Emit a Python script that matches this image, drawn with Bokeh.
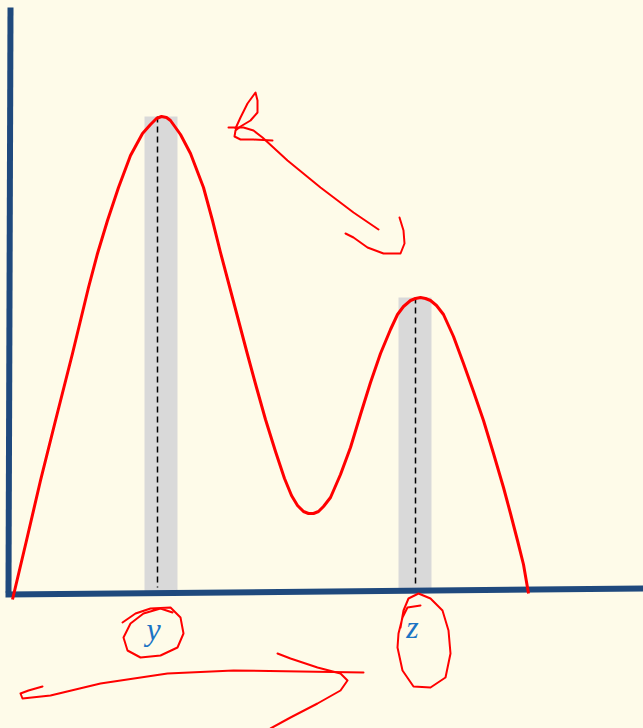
from bokeh.plotting import figure
from bokeh.models import Range1d
from bokeh.core.properties import value
from bokeh.embed import file_html
from bokeh.resources import INLINE

OX, OY = 9, 591  # page position of the axes origin


def conv(pts):
    return [p[0] - OX for p in pts], [OY - p[1] for p in pts]


# ---- data: curve (page pixel readings, converted to axis units below)
curve_pts = [(12, 599), (26, 540), (40, 480), (55, 420), (72, 353), (88, 287), (97, 253), (107, 220),
             (118, 187), (130, 155), (142, 133), (150, 124), (156, 118), (161, 116), (166, 117),
             (170, 120), (180, 134), (190, 153), (203, 187), (212, 220), (220, 252), (229, 286),
             (238, 320), (247, 354), (256, 387), (265, 419), (275, 451), (284, 478), (291, 495),
             (297, 505), (303, 511), (308, 513), (313, 513), (318, 511), (323, 506), (330, 497),
             (340, 474), (350, 447), (360, 414), (370, 382), (380, 353), (390, 329), (397, 314),
             (403, 306), (410, 300), (415, 298), (420, 297), (425, 298), (430, 300), (436, 305),
             (443, 314), (453, 336), (463, 363), (473, 391), (483, 420), (493, 453), (503, 487),
             (510, 513), (517, 540), (523, 564), (528, 593)]
curve_x, curve_y = conv(curve_pts)

peak_labels = ["y", "z"]
peak_x = [151.5, 405.5]
peak_top = [475, 294]
dash_x = [148, 406]
bar_width = 33

# axis lines (hand drawn, slightly tilted)
yaxis_x = [1, -1]
yaxis_y = [584, -1]
xaxis_x = [-4, 634]
xaxis_y = [-3, 3]

# red hand-drawn annotations, page pixel coordinates
top_shaft = [(228, 127), (243, 127), (253, 130), (262, 137), (287, 160), (320, 187), (353, 212), (378, 229)]
top_loop = [(235, 128), (240, 117), (247, 103), (255, 92), (257, 100), (257, 112), (250, 120), (240, 126),
            (235, 130), (234, 136), (240, 139), (253, 139), (272, 140)]
top_hook = [(345, 233), (353, 237), (367, 247), (383, 253), (400, 253), (404, 243), (403, 230), (399, 217)]
y_circle = [(122, 622), (135, 613), (150, 608), (170, 607), (180, 617), (183, 633), (177, 647), (160, 655),
            (140, 657), (127, 650), (123, 637), (130, 623), (143, 613), (160, 608), (172, 612)]
z_circle = [(420, 605), (407, 607), (402, 617), (398, 633), (397, 647), (402, 670), (413, 686), (430, 687),
            (445, 677), (450, 653), (448, 630), (442, 610), (430, 598), (418, 593), (408, 598), (403, 610),
            (400, 627)]
bottom_shaft = [(42, 686), (28, 690), (20, 693), (22, 698), (50, 695), (100, 683), (167, 673), (233, 670),
                (300, 671), (363, 672)]
bottom_head = [(277, 653), (290, 658), (317, 667), (340, 673), (347, 680), (340, 690), (317, 703),
               (290, 717), (270, 728)]

BG = "#fefbe9"
W, H = 643, 728

p = figure(width=W, height=H, output_backend="svg", toolbar_location=None,
           x_range=Range1d(0 - OX, W - OX), y_range=Range1d(OY - H, OY - 0),
           min_border=0, x_axis_type=None, y_axis_type=None)
p.outline_line_color = None
p.grid.visible = False
p.background_fill_color = BG
p.border_fill_color = BG

# grey highlight bars
p.vbar(x=peak_x, width=bar_width, top=peak_top, bottom=0, fill_color="#d9d9d9", line_color=None)

# dashed drop lines
p.segment(x0=dash_x, y0=peak_top, x1=dash_x, y1=[4, 4], line_color="black",
          line_width=1.5, line_dash="6 4")

# axes
p.line(yaxis_x, yaxis_y, line_color="#1f497d", line_width=6)
p.line(xaxis_x, xaxis_y, line_color="#1f497d", line_width=6)

# curve
p.line(curve_x, curve_y, line_color="#ff0000", line_width=3, line_join="round")

# annotations
for stroke in [top_shaft, top_loop, top_hook, y_circle, z_circle, bottom_shaft, bottom_head]:
    xs, ys = conv(stroke)
    p.line(xs, ys, line_color="#ff0000", line_width=2, line_join="round", line_cap="round")

# labels
p.text(x=[153 - OX, 412 - OX], y=[OY - 628, OY - 626], text=peak_labels,
       text_font=value("Liberation Serif"), text_font_style="italic", text_font_size="32px",
       text_color="#1b74c5", text_align="center", text_baseline="middle")

html = file_html(p, INLINE)
html = html.replace("</head>", "<style>html,body{background:%s;}</style></head>" % BG, 1)
open("out.html", "w").write(html)
